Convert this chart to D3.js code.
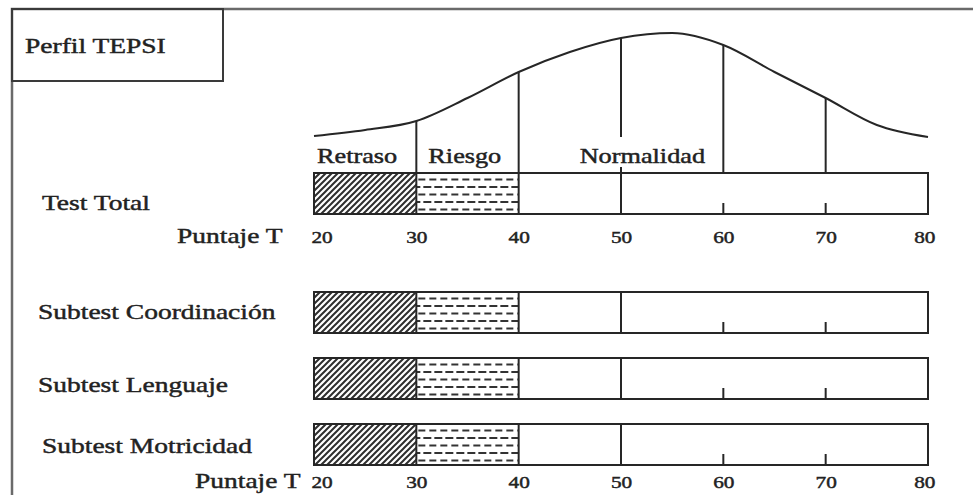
<!DOCTYPE html>
<html><head><meta charset="utf-8">
<script src="https://cdn.jsdelivr.net/npm/d3@7"></script>
<style>
html,body{margin:0;padding:0;background:#fff;}
svg{display:block;}
text{font-family:"Liberation Serif","DejaVu Serif",serif;fill:#222;stroke:#222;stroke-width:0.45px;}
</style></head>
<body>
<svg id="c" width="973" height="495"></svg>
<script>
// ---- data ----
const title = "Perfil TEPSI";
const tickValues = [20, 30, 40, 50, 60, 70, 80];
const axisLabel = "Puntaje T";
const totalRow = "Test Total";
const subtests = ["Subtest Coordinación", "Subtest Lenguaje", "Subtest Motricidad"];
const zoneNames = ["Retraso", "Riesgo", "Normalidad"];
const zoneFrom = [20, 30, 40];
const zoneTo = [30, 40, 80];
// normal-curve silhouette (relative height)
const curveT = [20, 25, 30, 35, 40, 45, 50, 55, 60, 65, 70, 75, 80];
const curveH = [4, 10, 19, 42, 68, 88, 102, 107, 95, 68, 42, 15, 3];
const dividers = [30, 40, 50, 60, 70];

// ---- layout ----
const svg = d3.select("#c");
const ink = "#262626";
const SX = 1.25;
const x = d3.scaleLinear().domain([20, 80]).range([314, 928]);
const yc = d3.scaleLinear().domain([0, 100]).range([140, 40]);
const barH = 41;
const totalTop = 173;
const ySub = d3.scalePoint().domain(subtests).range([292, 424]);

function label(txt, px, py, size, anchor) {
  return svg.append("text")
    .attr("transform", `translate(${px},${py}) scale(${SX},1)`)
    .attr("text-anchor", anchor || "start")
    .style("font-size", size + "px")
    .text(txt);
}

// patterns (one per bar so they line up with each bar's top)
const defs = svg.append("defs");
function makePatterns(id, top) {
  const h = defs.append("pattern").attr("id", "hatch" + id)
    .attr("patternUnits", "userSpaceOnUse").attr("width", 6).attr("height", 6)
    .attr("x", x(20)).attr("y", top);
  h.append("rect").attr("width", 6).attr("height", 6).attr("fill", "#fff");
  h.append("path").attr("d", "M-1,7 L7,-1 M-4,4 L4,-4 M2,10 L10,2")
    .attr("stroke", "#2e2e2e").attr("stroke-width", 2);
  const d = defs.append("pattern").attr("id", "dash" + id)
    .attr("patternUnits", "userSpaceOnUse").attr("width", 22).attr("height", 15)
    .attr("x", x(30)).attr("y", top + 3);
  d.append("rect").attr("width", 22).attr("height", 15).attr("fill", "#fff");
  d.append("path").attr("d", "M2,3.5 H9 M13,3.5 H20 M-3,11 H4 M7,11 H15 M18,11 H25")
    .attr("stroke", "#333").attr("stroke-width", 2);
}

// outer frame + title box
svg.append("rect").attr("x", 12).attr("y", 9).attr("width", 1000).attr("height", 520)
  .attr("fill", "none").attr("stroke", "#6a6a6a").attr("stroke-width", 2.5);
svg.append("rect").attr("x", 12).attr("y", 9).attr("width", 211).attr("height", 72)
  .attr("fill", "none").attr("stroke", "#3a3a3a").attr("stroke-width", 2);
label(title, 25, 53, 22);

// curve
svg.append("path")
  .datum(curveT.map((t, i) => [t, curveH[i]]))
  .attr("fill", "none").attr("stroke", ink).attr("stroke-width", 2)
  .attr("d", d3.line().x(d => x(d[0])).y(d => yc(d[1])).curve(d3.curveMonotoneX));

// bars
function drawBar(id, top) {
  makePatterns(id, top);
  const g = svg.append("g");
  g.append("rect").attr("x", x(zoneFrom[0])).attr("y", top)
    .attr("width", x(zoneTo[0]) - x(zoneFrom[0])).attr("height", barH)
    .attr("fill", `url(#hatch${id})`);
  g.append("rect").attr("x", x(zoneFrom[1])).attr("y", top)
    .attr("width", x(zoneTo[1]) - x(zoneFrom[1])).attr("height", barH)
    .attr("fill", `url(#dash${id})`);
  g.append("rect").attr("x", x(20)).attr("y", top)
    .attr("width", x(80) - x(20)).attr("height", barH)
    .attr("fill", "none").attr("stroke", ink).attr("stroke-width", 2);
  dividers.forEach(v => {
    const full = v <= 50;
    g.append("line").attr("x1", x(v)).attr("x2", x(v))
      .attr("y1", full ? top : top + barH - 11).attr("y2", top + barH)
      .attr("stroke", ink).attr("stroke-width", 2);
  });
  return g;
}

drawBar(0, totalTop);
subtests.forEach((s, i) => drawBar(i + 1, ySub(s)));

// vertical lines from curve down to the total bar
dividers.forEach(v => {
  const top = yc(curveH[curveT.indexOf(v)]);
  if (v === 50) {
    svg.append("line").attr("x1", x(v)).attr("x2", x(v)).attr("y1", top).attr("y2", 137)
      .attr("stroke", ink).attr("stroke-width", 2);
    svg.append("line").attr("x1", x(v)).attr("x2", x(v)).attr("y1", 167).attr("y2", totalTop)
      .attr("stroke", ink).attr("stroke-width", 2);
  } else {
    svg.append("line").attr("x1", x(v)).attr("x2", x(v)).attr("y1", top).attr("y2", totalTop)
      .attr("stroke", ink).attr("stroke-width", 2);
  }
});

// zone labels
const zoneOffset = [3, 12, 61];
zoneNames.forEach((n, i) => label(n, x(zoneFrom[i]) + zoneOffset[i], 163, 21));

// row labels
label(totalRow, 42, 210, 22);
const subX = [38, 38, 42];
const subDy = [27, 34, 29];
subtests.forEach((s, i) => label(s, subX[i], ySub(s) + subDy[i], 22));

// axes
function drawAxis(yBase, labelX) {
  const ax = svg.append("g").attr("transform", `translate(0,${yBase})`)
    .call(d3.axisBottom(x).tickValues(tickValues).tickSize(0).tickPadding(0).tickFormat(d3.format("d")));
  ax.select(".domain").remove();
  ax.selectAll("text")
    .attr("y", 0).attr("dy", 0)
    .attr("x", d => d === 20 ? 6 : (d === 80 ? -3 : 0))
    .attr("transform", `scale(${SX},1)`)
    .style("font-family", '"Liberation Serif","DejaVu Serif",serif')
    .style("font-size", "17px").attr("fill", "#2a2a2a");
  label(axisLabel, labelX, yBase, 22);
}
drawAxis(243, 177);
drawAxis(488, 195);
</script>
</body></html>
